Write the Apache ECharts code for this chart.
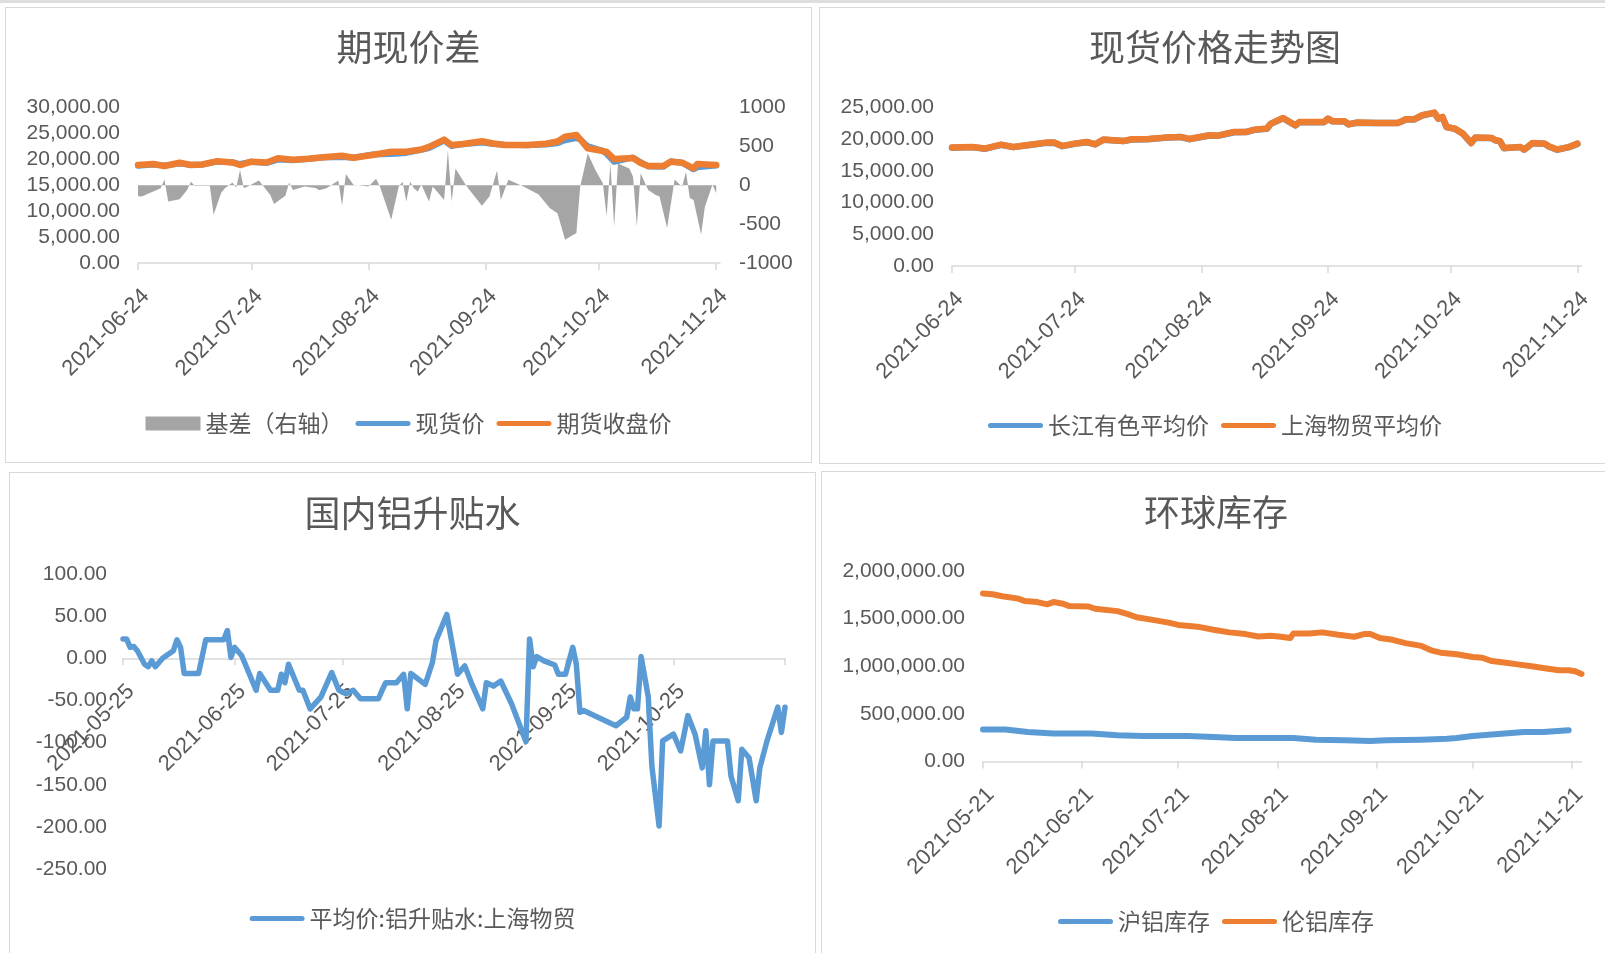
<!DOCTYPE html>
<html>
<head>
<meta charset="utf-8">
<script src="https://cdn.jsdelivr.net/npm/echarts@6/dist/echarts.min.js"></script>
<style>
  html, body { margin: 0; padding: 0; background: #fff; width: 1605px; height: 953px; overflow: hidden; position: relative; }
  .topbar { position: absolute; left: 0; top: 0; width: 1605px; height: 3px; background: #dedede; }
  .panel { position: absolute; box-sizing: border-box; border: 1px solid #d9d9d9; background: #fff; }
  #c1 { left: 5px; top: 7px; width: 807px; height: 456px; }
  #c2 { left: 819px; top: 7px; width: 792px; height: 457px; }
  #c3 { left: 9px; top: 472px; width: 807px; height: 500px; }
  #c4 { left: 821px; top: 471px; width: 790px; height: 500px; }
</style>
</head>
<body>
<div class="topbar"></div>
<div id="c1" class="panel"></div>
<div id="c2" class="panel"></div>
<div id="c3" class="panel"></div>
<div id="c4" class="panel"></div>
<script>
// ---- 期现价差 ----
const p1Dates = ['06-24','06-28','07-01','07-05','07-08','07-11','07-15','07-19','07-21','07-24','07-28','07-31',
  '08-04','08-08','08-12','08-17','08-20','08-25','08-30','09-03','09-07','09-09','09-13','09-15','09-18','09-23',
  '09-26','09-29','10-05','10-10','10-13','10-15','10-18','10-19','10-21','10-25','10-26','10-28','11-02','11-04',
  '11-06','11-10','11-12','11-15','11-18','11-19','11-24'];
const p1Futures = [18900,19100,18720,19350,18900,19000,19650,19400,18900,19550,19400,20200,
  19900,20100,20400,20700,20300,20850,21450,21450,21900,22400,23800,22750,22950,23500,
  23050,22750,22750,23000,23450,24380,24700,23870,22130,21600,21450,20050,20260,19300,
  18700,18700,19550,19350,18270,19100,18900];
const p1Spot = [18760,19000,18800,19170,18950,18990,19550,19430,19090,19530,19280,19960,
  19840,20070,20360,20440,20300,20930,21010,21240,21820,22190,23610,22540,22930,23240,
  22950,22800,22740,22880,23090,23680,24090,23850,22540,21620,21050,19520,20370,19450,
  18640,18560,19620,19330,18080,18470,18800];
const p1BasisDates = ['06-24','06-25','06-30','07-01','07-02','07-05','07-07','07-08','07-09','07-13','07-14',
  '07-16','07-17','07-19','07-20','07-21','07-22','07-23','07-26','07-27','07-29','07-30','08-02','08-03','08-04',
  '08-07','08-10','08-11','08-13','08-16','08-17','08-18','08-20','08-24','08-26','08-27','08-30','09-01','09-02',
  '09-03','09-04','09-05','09-06','09-07','09-09','09-10','09-13','09-14','09-15','09-16','09-19','09-23','09-25',
  '09-27','09-28','09-30','10-04','10-08','10-11','10-13','10-15','10-18','10-19','10-21','10-23','10-25','10-26',
  '10-27','10-28','10-29','11-01','11-02','11-03','11-04','11-06','11-08','11-09','11-11','11-13','11-14','11-15',
  '11-16','11-17','11-18','11-20','11-21','11-23','11-24'];
const p1Basis = [-140,-145,-40,75,-210,-180,-60,45,-5,-5,-380,
  -100,-40,35,-30,195,-40,-15,60,0,-125,-240,-135,35,-60,
  -15,-35,-65,-35,60,-265,145,5,-15,85,-15,-445,-15,45,
  -210,45,-40,-80,5,-210,-15,-190,450,-210,215,-15,-265,-145,
  190,-190,70,-15,-120,-295,-360,-700,-615,-20,410,200,25,-400,
  280,-530,280,215,110,-530,155,-60,-125,-145,-550,75,25,-15,
  175,-165,-190,-635,-275,5,-100];

// ---- 现货价格走势图 ----
const p2Dates = ['06-24','06-29','07-02','07-06','07-09','07-14','07-17','07-19','07-21','07-24','07-27','07-29',
  '07-31','08-05','08-07','08-11','08-15','08-19','08-21','08-26','08-28','09-01','09-04','09-06','09-09','09-10',
  '09-13','09-16','09-17','09-23','09-24','09-25','09-28','09-29','10-01','10-06','10-11','10-12','10-13','10-15',
  '10-17','10-20','10-21','10-22','10-23','10-25','10-27','10-29','10-30','11-03','11-04','11-05','11-06','11-10',
  '11-11','11-13','11-16','11-17','11-19','11-22','11-24'];
const p2Changjiang = [18660,18750,18480,19100,18750,19160,19420,19430,18900,19270,19530,19170,
  19900,19700,19950,20000,20210,20330,20000,20580,20530,21100,21120,21470,21630,22420,
  23300,22160,22690,22690,23210,22820,22810,22330,22590,22540,22540,22800,23100,23100,
  23740,24150,23210,23470,21900,21640,20850,19380,20210,20170,19800,19700,18590,18750,
  18330,19370,19270,18850,18330,18750,19260];
const p2Shanghai = [18700,18780,18520,19150,18780,19200,19460,19460,18940,19300,19570,19200,
  19940,19730,19990,20040,20250,20360,20040,20620,20560,21150,21150,21510,21670,22460,
  23350,22200,22720,22720,23250,22850,22850,22360,22620,22570,22570,22830,23140,23140,
  23780,24200,23250,23510,21930,21670,20880,19410,20250,20200,19830,19730,18620,18780,
  18360,19410,19300,18880,18360,18780,19300];

// ---- 国内铝升贴水 ----
const p3Dates = ['05-25','05-26','05-27','05-28','05-29','05-31','06-01','06-02','06-03','06-05','06-08','06-09',
  '06-10','06-11','06-15','06-17','06-22','06-23','06-24','06-25','06-27','07-01','07-02','07-05','07-07','07-08',
  '07-09','07-10','07-13','07-14','07-16','07-19','07-22','07-24','07-26','07-28','07-30','08-04','08-05','08-06',
  '08-09','08-11','08-12','08-13','08-17','08-19','08-20','08-23','08-26','08-28','08-30','09-02','09-03','09-05',
  '09-07','09-10','09-14','09-15','09-16','09-17','09-19','09-22','09-23','09-25','09-27','09-28','09-29','09-30',
  '10-09','10-12','10-13','10-14','10-15','10-16','10-18','10-19','10-21','10-22','10-25','10-27','10-29','10-31',
  '11-02','11-03','11-04','11-05','11-09','11-10','11-12','11-13','11-15','11-17','11-18','11-20','11-23','11-24',
  '11-25'];
const p3Premium = [23,23,13,14,9,-7,-10,-3,-10,0,9,22,
  13,-18,-18,22,22,33,1,13,3,-38,-18,-38,-38,-19,
  -29,-7,-38,-38,-60,-46,-17,-38,-42,-38,-48,-48,-38,-29,
  -29,-19,-60,-18,-31,-5,21,52,-19,-9,-31,-60,-29,-33,
  -27,-54,-99,23,-10,2,-3,-8,-19,-19,13,-7,-64,-62,
  -80,-70,-46,-60,-60,2,-46,-128,-199,-98,-90,-110,-68,-90,
  -130,-86,-150,-98,-98,-140,-169,-108,-118,-169,-130,-98,-58,-88,
  -58];

// ---- 环球库存 ----
const p4LmeDates = ['05-21','05-24','05-27','06-01','06-03','06-07','06-10','06-12','06-15','06-17','06-23','06-25',
  '07-02','07-05','07-08','07-13','07-18','07-21','07-27','08-01','08-06','08-11','08-15','08-19','08-22','08-25',
  '08-26','08-31','09-04','09-09','09-14','09-17','09-19','09-22','09-26','09-30','10-05','10-08','10-11','10-16',
  '10-21','10-24','10-27','11-01','11-04','11-09','11-13','11-17','11-20','11-22','11-24'];
const p4Lme = [1763000,1756000,1735000,1710000,1685000,1674000,1650000,1674000,1657000,1632000,1628000,1604000,
  1579000,1550000,1515000,1487000,1458000,1434000,1416000,1384000,1356000,1338000,1313000,1320000,1310000,1296000,
  1345000,1345000,1356000,1331000,1310000,1338000,1338000,1296000,1278000,1243000,1214000,1168000,1143000,1126000,
  1097000,1090000,1055000,1034000,1020000,998000,977000,959000,959000,949000,920000];
const p4ShfeDates = ['05-21','05-28','06-04','06-12','06-24','07-02','07-10','07-24','08-01','08-08','08-26','09-02',
  '09-11','09-19','09-24','10-05','10-13','10-16','10-21','10-29','11-06','11-12','11-20'];
const p4Shfe = [336000,336000,311000,294000,294000,276000,269000,269000,258000,248000,248000,230000,
  223000,216000,223000,230000,240000,248000,269000,290000,311000,311000,329000];

const BLUE = '#5b9bd5', ORANGE = '#ed7d31', GREY = '#a5a5a5';
const TXT = '#595959', AXIS = '#d9d9d9';
const NUM_FONT = 'Liberation Sans, Arial, sans-serif';
const CJK_FONT = 'Noto Sans CJK SC, sans-serif';
const LINE_ICON = 'path://M5,0H105A5,5,0,0,1,105,10H5A5,5,0,0,1,5,0Z';

function dayList(from, to) {
  const out = [];
  const d = new Date('2021-' + from + 'T00:00:00Z');
  const end = new Date('2021-' + to + 'T00:00:00Z');
  while (d <= end) {
    out.push(d.toISOString().slice(0, 10));
    d.setUTCDate(d.getUTCDate() + 1);
  }
  return out;
}

function pairs(dates, vals) {
  return dates.map((d, i) => ['2021-' + d, vals[i]]);
}

function fmt2(v) {
  return Number(v).toLocaleString('en-US', { minimumFractionDigits: 2, maximumFractionDigits: 2 });
}

// offset < 0 pulls the axis up into the plot (used for the zero line of chart 3)
function dateAxis(cats, day, skipLast, offset) {
  const last = cats.length - 1;
  return {
    type: 'category',
    data: cats,
    boundaryGap: false,
    offset: offset || 0,
    axisLine: { onZero: false, lineStyle: { color: AXIS, width: 1.5 } },
    axisTick: { interval: (i, v) => v.slice(8) === day, length: 7, lineStyle: { color: AXIS, width: 1.5 } },
    axisLabel: {
      interval: (i, v) => v.slice(8) === day && !(skipLast && i === last),
      rotate: 45, margin: 22, align: 'right', verticalAlign: 'top',
      color: TXT, fontSize: 22, fontFamily: NUM_FONT
    },
    splitLine: { show: false }
  };
}

function valueAxis(min, max, step, fmt, margin, extra) {
  return Object.assign({
    type: 'value', min: min, max: max, interval: step,
    axisLine: { show: false }, axisTick: { show: false }, splitLine: { show: false },
    axisLabel: { formatter: fmt, margin: margin, color: TXT, fontSize: 21, fontFamily: NUM_FONT }
  }, extra || {});
}

function title(text, top) {
  return {
    text: text, left: 'center', top: top,
    textStyle: { fontSize: 36, fontWeight: 'normal', color: TXT, fontFamily: CJK_FONT }
  };
}

function legend(items, top) {
  return {
    data: items, top: top, left: 'center',
    itemWidth: 55, itemHeight: 14, itemGap: 12, symbolKeepAspect: true,
    itemStyle: { borderWidth: 0 },
    textStyle: { fontSize: 23, color: TXT, fontFamily: CJK_FONT }
  };
}

function line(name, data, color, width) {
  return {
    name: name, type: 'line', data: data, symbol: 'none', clip: false,
    itemStyle: { color: color },
    lineStyle: { color: color, width: width, cap: 'round', join: 'round' }
  };
}

function grid(left, top, width, height) {
  return { left: left, top: top, width: width, height: height, containLabel: false, outerBoundsMode: 'none' };
}

// chart 1
const c1 = echarts.init(document.getElementById('c1'));
c1.setOption({
  animation: false,
  title: title('期现价差', 16),
  legend: legend([
    { name: '基差（右轴）', icon: 'rect' },
    { name: '现货价', icon: LINE_ICON },
    { name: '期货收盘价', icon: LINE_ICON }
  ], 399),
  grid: grid(132, 99.5, 582, 155.5),
  xAxis: dateAxis(dayList('06-24', '11-25'), '24', false),
  yAxis: [
    valueAxis(0, 30000, 5000, fmt2, 18),
    valueAxis(-1000, 1000, 500, v => String(v), 19, { position: 'right' })
  ],
  series: [
    {
      name: '基差（右轴）', type: 'line', yAxisIndex: 1, symbol: 'none',
      data: pairs(p1BasisDates, p1Basis),
      itemStyle: { color: GREY },
      lineStyle: { width: 0 },
      areaStyle: { color: GREY, opacity: 1 }
    },
    line('现货价', pairs(p1Dates, p1Spot), BLUE, 6),
    line('期货收盘价', pairs(p1Dates, p1Futures), ORANGE, 6.5)
  ]
});

// chart 2
const c2 = echarts.init(document.getElementById('c2'));
c2.setOption({
  animation: false,
  title: title('现货价格走势图', 16),
  legend: legend([
    { name: '长江有色平均价', icon: LINE_ICON },
    { name: '上海物贸平均价', icon: LINE_ICON }
  ], 401),
  grid: grid(132, 99.5, 629.5, 158.5),
  xAxis: dateAxis(dayList('06-24', '11-25'), '24', false),
  yAxis: valueAxis(0, 25000, 5000, fmt2, 18),
  series: [
    line('长江有色平均价', pairs(p2Dates, p2Changjiang), BLUE, 6.5),
    line('上海物贸平均价', pairs(p2Dates, p2Shanghai), ORANGE, 6.5)
  ]
});

// chart 3: plot 295px tall for -250..100, zero line sits 250/350 of it above the bottom
const c3 = echarts.init(document.getElementById('c3'));
c3.setOption({
  animation: false,
  title: title('国内铝升贴水', 17),
  legend: legend([{ name: '平均价:铝升贴水:上海物贸', icon: LINE_ICON }], 429),
  grid: grid(113, 101, 662, 295),
  xAxis: dateAxis(dayList('05-25', '11-25'), '25', true, -295 * 250 / 350),
  yAxis: valueAxis(-250, 100, 50, fmt2, 16),
  series: [line('平均价:铝升贴水:上海物贸', pairs(p3Dates, p3Premium), BLUE, 5.5)]
});

// chart 4
const c4 = echarts.init(document.getElementById('c4'));
c4.setOption({
  animation: false,
  title: title('环球库存', 17),
  legend: legend([
    { name: '沪铝库存', icon: LINE_ICON },
    { name: '伦铝库存', icon: LINE_ICON }
  ], 433),
  grid: grid(161, 99, 598.5, 190.6),
  xAxis: dateAxis(dayList('05-21', '11-24'), '21', false),
  yAxis: valueAxis(0, 2000000, 500000, fmt2, 18),
  series: [
    line('沪铝库存', pairs(p4ShfeDates, p4Shfe), BLUE, 6),
    line('伦铝库存', pairs(p4LmeDates, p4Lme), ORANGE, 6)
  ]
});
</script>
</body>
</html>
